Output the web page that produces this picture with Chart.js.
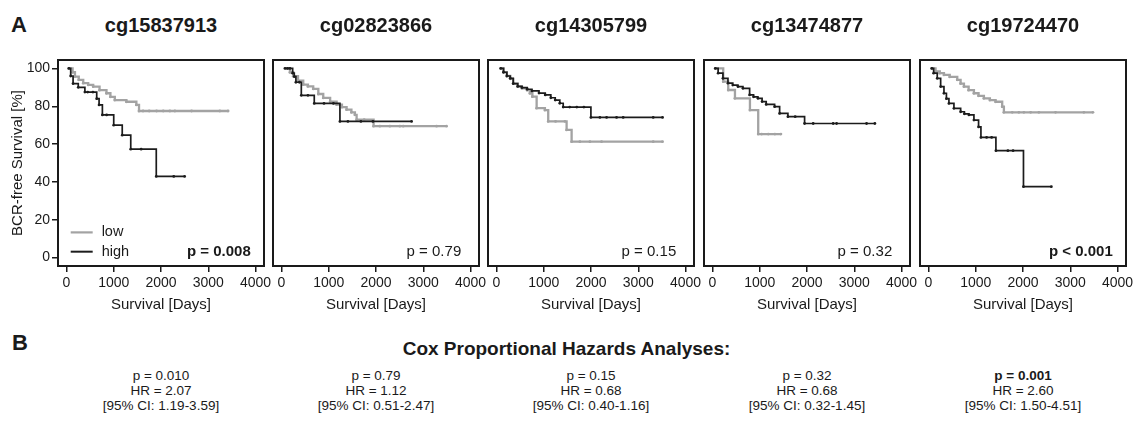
<!DOCTYPE html>
<html>
<head>
<meta charset="utf-8">
<script src="https://cdn.jsdelivr.net/npm/chart.js@4.4.1/dist/chart.umd.min.js"></script>
<style>
  html, body { margin: 0; padding: 0; background: #fff; }
  #figure {
    position: relative; width: 1133px; height: 423px; overflow: hidden;
    font-family: "Liberation Sans", Arial, sans-serif; color: #1a1a1a;
  }
  .abs { position: absolute; white-space: nowrap; }
  .letter { font-weight: bold; font-size: 22px; line-height: 22px; }
  .probe { font-weight: bold; font-size: 20px; line-height: 20px; text-align: center; top: 15px; }
  .cox-title { font-weight: bold; font-size: 19px; line-height: 20px; left: 0; width: 1133px; text-align: center; top: 339px; }
  .cox { font-size: 13.5px; line-height: 15px; text-align: center; top: 368px; }
  canvas { position: absolute; }
</style>
</head>
<body>
<div id="figure">
  <div class="abs letter" style="left:11px; top:14px;">A</div>
  <div class="abs letter" style="left:12px; top:332px;">B</div>
  <div class="abs cox-title">Cox Proportional Hazards Analyses:</div>
</div>
<script>
// probes, p-values and Cox results
const probes = ["cg15837913", "cg02823866", "cg14305799", "cg13474877", "cg19724470"];
const logRankP = ["p = 0.008", "p = 0.79", "p = 0.15", "p = 0.32", "p < 0.001"];
const logRankBold = [true, false, false, false, true];
const coxP = ["p = 0.010", "p = 0.79", "p = 0.15", "p = 0.32", "p = 0.001"];
const coxBold = [false, false, false, false, true];
const coxHR = ["2.07", "1.12", "0.68", "0.68", "2.60"];
const coxCI = ["1.19-3.59", "0.51-2.47", "0.40-1.16", "0.32-1.45", "1.50-4.51"];

const groupLabels = ["low", "high"];
const xTicks = [0, 1000, 2000, 3000, 4000];
const yTicks = [0, 20, 40, 60, 80, 100];

// Kaplan-Meier steps: [days, BCR-free survival %]
const low_cg15837913 = [[50,100],[130,98],[180,95.7],[260,94],[355,92.2],[460,91.3],[566,90.4],[700,88.5],[847,86.9],[930,85],[1023,83.3],[1269,82.4],[1479,80.7],[1535,77.5],[1620,77.5],[1750,77.5],[1907,77.5],[2047,77.5],[2188,77.5],[2294,77.5],[2647,77.5],[3245,77.5],[3420,77.5]];
const high_cg15837913 = [[50,100],[90,96],[140,92],[250,90],[390,87.5],[450,87.5],[560,87.5],[640,84],[690,80.7],[760,75.4],[850,75.4],[1000,70],[1180,64.7],[1360,57.3],[1580,57.3],[1900,42.9],[2270,42.9],[2500,42.9]];

const low_cg02823866 = [[110,100],[180,98],[249,95.9],[350,93.5],[461,91.5],[560,90.5],[672,89.2],[780,86.5],[884,84.4],[1030,82.5],[1167,80.9],[1280,79.5],[1378,78.2],[1480,76.8],[1554,75.5],[1590,72.9],[1750,72.9],[1949,69.5],[2082,69.5],[2294,69.5],[2505,69.5],[2575,69.5],[3281,69.5],[3493,69.5]];
const high_cg02823866 = [[74,100],[130,100],[180,100],[237,97.5],[271,95.7],[306,92.7],[380,92.7],[420,85.8],[560,85.8],[694,81.5],[900,81.5],[1100,81.5],[1237,72],[1406,72],[1681,72],[1934,72],[2753,72]];

const low_cg14305799 = [[90,100],[150,98],[220,96],[292,94.5],[355,92],[450,90.5],[539,89.5],[650,88.5],[708,86.9],[760,85.1],[850,79],[1025,78],[1095,72],[1250,72],[1448,72],[1484,67.5],[1590,61.3],[1765,61.3],[1977,61.3],[2224,61.3],[3316,61.3],[3514,61.3]];
const high_cg14305799 = [[90,100],[150,98],[220,96],[292,94.8],[355,92],[450,90.5],[539,89.9],[650,89],[751,88.1],[900,87],[1032,86],[1150,84.5],[1243,83.3],[1340,81.6],[1412,79.6],[1550,79.6],[1700,79.6],[1850,79.6],[1998,74.1],[2188,74.1],[2330,74.1],[2541,74.1],[2681,74.1],[3316,74.1],[3514,74.1]];

const low_cg13474877 = [[60,100],[228,93],[334,88.6],[476,84.2],[793,78],[968,65.3],[1040,65.3],[1180,65.3],[1321,65.3],[1448,65.3]];
const high_cg13474877 = [[60,100],[120,97.5],[222,94.8],[328,92.2],[430,91.2],[539,90.4],[645,89.5],[786,86],[870,85],[962,84.2],[1050,82.5],[1137,81],[1315,79.8],[1421,76.2],[1596,74.5],[1750,74.5],[1949,70.9],[2131,70.9],[2554,70.9],[2626,70.9],[3260,70.9],[3436,70.9]];

const low_cg19724470 = [[70,100],[150,98.5],[240,97.5],[328,96.6],[450,95.5],[609,94],[680,92],[751,90.4],[850,88.5],[962,86.9],[1060,85.5],[1173,84.2],[1300,83.3],[1421,82.4],[1560,79.8],[1596,76.8],[1772,76.8],[1913,76.8],[2019,76.8],[2161,76.8],[2336,76.8],[2689,76.8],[3288,76.8],[3480,76.8]];
const high_cg19724470 = [[70,100],[110,97.5],[186,94.8],[258,90.4],[328,86.9],[380,84],[433,81.5],[539,78.9],[681,77.1],[760,76],[856,75.4],[962,72.7],[1060,69.1],[1110,63.5],[1230,63.5],[1336,63.5],[1427,56.5],[1680,56.5],[1790,56.5],[2010,37.5],[2600,37.5]];

const lowCurves = [low_cg15837913, low_cg02823866, low_cg14305799, low_cg13474877, low_cg19724470];
const highCurves = [high_cg15837913, high_cg02823866, high_cg14305799, high_cg13474877, high_cg19724470];

// layout
const BOX_LEFT = [57, 272, 487, 703, 919];
const BOX_TOP = 59;
const BOX_SIZE = 208;
const Y_AXIS_W = 57;
const X_AXIS_H = 52;
const GRAY = "#a3a3a3";
const BLACK = "#1c1c1c";
const FONT = "'Liberation Sans', Arial, sans-serif";

Chart.defaults.font.family = FONT;
Chart.defaults.color = "#1a1a1a";

const fig = document.getElementById("figure");

// frame around each plot area
const boxPlugin = {
  id: "panelBox",
  afterDraw(chart) {
    const { left, top, right, bottom } = chart.chartArea;
    const ctx = chart.ctx;
    ctx.save();
    ctx.strokeStyle = "#1a1a1a";
    ctx.lineWidth = 2;
    ctx.beginPath();
    ctx.moveTo(left + 1, top + 1);
    ctx.lineTo(right - 1, top + 1);
    ctx.lineTo(right - 1, bottom - 1);
    ctx.lineTo(left + 1, bottom - 1);
    ctx.closePath();
    ctx.stroke();
    ctx.restore();
  },
};

// legend (first panel) and log-rank p value, placed with the data scales
const notesPlugin = {
  id: "kmNotes",
  afterDatasetsDraw(chart, args, opts) {
    const ctx = chart.ctx;
    const x = chart.scales.x;
    const y = chart.scales.y;
    ctx.save();
    ctx.textBaseline = "middle";
    if (opts.legend) {
      const rows = [
        { label: groupLabels[0], color: GRAY, width: 2.2, at: 13.3 },
        { label: groupLabels[1], color: BLACK, width: 2, at: 3.1 },
      ];
      rows.forEach((r) => {
        const py = y.getPixelForValue(r.at);
        ctx.strokeStyle = r.color;
        ctx.lineWidth = r.width;
        ctx.beginPath();
        ctx.moveTo(x.getPixelForValue(90), py);
        ctx.lineTo(x.getPixelForValue(555), py);
        ctx.stroke();
        ctx.fillStyle = "#1a1a1a";
        ctx.font = "14.5px " + FONT;
        ctx.textAlign = "left";
        ctx.fillText(r.label, x.getPixelForValue(744), py);
      });
    }
    ctx.font = (opts.bold ? "bold " : "") + "15px " + FONT;
    ctx.textAlign = "center";
    ctx.fillStyle = "#1a1a1a";
    ctx.fillText(opts.text, x.getPixelForValue(3225), y.getPixelForValue(3.1));
    ctx.restore();
  },
};

function toXY(curve) {
  return curve.map(([t, s]) => ({ x: t, y: s }));
}

function addText(cls, html, left, width) {
  const d = document.createElement("div");
  d.className = "abs " + cls;
  d.style.left = left + "px";
  d.style.width = width + "px";
  d.innerHTML = html;
  fig.appendChild(d);
}

function makePanel(i) {
  const first = i === 0;
  const padL = first ? 0 : 10;
  const padR = 10;
  const leftSpace = first ? Y_AXIS_W : padL;
  const canvas = document.createElement("canvas");
  const w = leftSpace + BOX_SIZE + padR;
  const h = 9 + BOX_SIZE + X_AXIS_H;
  canvas.width = w;
  canvas.height = h;
  canvas.style.width = w + "px";
  canvas.style.height = h + "px";
  canvas.style.left = BOX_LEFT[i] - leftSpace + "px";
  canvas.style.top = BOX_TOP - 9 + "px";
  fig.appendChild(canvas);

  new Chart(canvas, {
    type: "line",
    data: {
      datasets: [
        {
          label: groupLabels[0],
          data: toXY(lowCurves[i]),
          borderColor: GRAY,
          backgroundColor: GRAY,
          borderWidth: 2.3,
          stepped: true,
          pointRadius: 1.4,
          pointBorderWidth: 0,
          order: 1,
        },
        {
          label: groupLabels[1],
          data: toXY(highCurves[i]),
          borderColor: BLACK,
          backgroundColor: BLACK,
          borderWidth: 1.7,
          stepped: true,
          pointRadius: 1.4,
          pointBorderWidth: 0,
          order: 0,
        },
      ],
    },
    options: {
      responsive: false,
      animation: false,
      events: [],
      layout: { padding: { top: 9, right: padR, bottom: 0, left: padL } },
      plugins: {
        legend: { display: false },
        tooltip: { enabled: false },
        kmNotes: { text: logRankP[i], bold: logRankBold[i], legend: first },
      },
      scales: {
        x: {
          type: "linear",
          min: -200,
          max: 4200,
          afterBuildTicks: (s) => { s.ticks = xTicks.map((v) => ({ value: v })); },
          afterFit: (s) => {
            s.height = X_AXIS_H;
            s.paddingLeft = 0;
            s.paddingRight = 0;
          },
          grid: { drawOnChartArea: false, tickLength: 5, color: "#1a1a1a", lineWidth: 1.5 },
          border: { display: false },
          ticks: { font: { size: 14 }, padding: 3, autoSkip: false, maxRotation: 0, callback: (v) => String(v) },
          title: { display: true, text: "Survival [Days]", font: { size: 15 }, padding: { top: 0, bottom: 5 } },
        },
        y: {
          type: "linear",
          display: first,
          min: -5,
          max: 105,
          afterBuildTicks: (s) => { s.ticks = yTicks.map((v) => ({ value: v })); },
          afterFit: (s) => {
            s.width = first ? Y_AXIS_W : 0;
            s.paddingTop = 0;
            s.paddingBottom = 0;
          },
          grid: { drawOnChartArea: false, tickLength: 5, color: "#1a1a1a", lineWidth: 1.5 },
          border: { display: false },
          ticks: { font: { size: 14 }, padding: 2, callback: (v) => String(v) },
          title: { display: true, text: "BCR-free Survival [%]", font: { size: 15 }, padding: { top: 9, bottom: 0 } },
        },
      },
    },
    plugins: [boxPlugin, notesPlugin],
  });

  addText("probe", probes[i], BOX_LEFT[i], BOX_SIZE);
  const p = coxBold[i] ? "<b>" + coxP[i] + "</b>" : coxP[i];
  addText("cox", p + "<br>HR = " + coxHR[i] + "<br>[95% CI: " + coxCI[i] + "]", BOX_LEFT[i], BOX_SIZE);
}

probes.forEach((_, i) => makePanel(i));
</script>
</body>
</html>
